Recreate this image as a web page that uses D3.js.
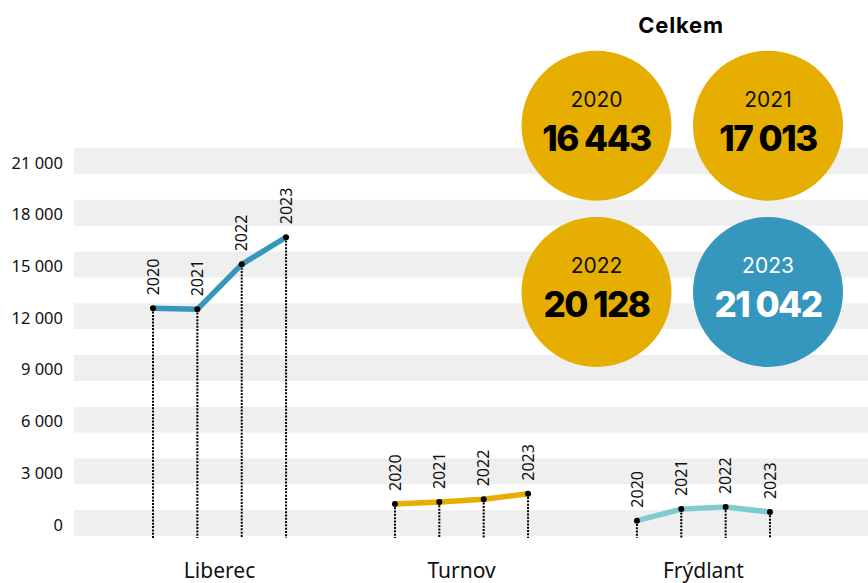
<!DOCTYPE html>
<html>
<head>
<meta charset="utf-8">
<script src="https://cdn.jsdelivr.net/npm/d3@7"></script>
<style>
  body { margin: 0; background: #fff; }
  svg { display: block; }
</style>
</head>
<body>
<div id="chart"></div>
<script>
// data
var cities = ["Liberec", "Turnov", "Frýdlant"];
var years = ["2020", "2021", "2022", "2023"];
var liberecValues = [13210, 13150, 15760, 17330];
var turnovValues = [1860, 1970, 2130, 2450];
var frydlantValues = [890, 1560, 1680, 1390];
var totals = [16443, 17013, 20128, 21042];
var yTicks = [0, 3000, 6000, 9000, 12000, 15000, 18000, 21000];

var cityColors = ["#3597bd", "#e5ae00", "#7ecbd0"];
var seriesValues = [liberecValues, turnovValues, frydlantValues];

var width = 868, height = 583;
var gold = "#e5ae00", blue = "#3597bd";

var locale = d3.formatLocale({decimal: ",", thousands: "\u00a0", grouping: [3], currency: ["", ""]});
var fmt = locale.format(",d");

var svg = d3.select("#chart").append("svg")
    .attr("width", width)
    .attr("height", height);

var y = d3.scaleLinear()
    .domain([0, 21000])
    .range([536, 174]);

var x0 = d3.scaleBand()
    .domain(cities)
    .range([153, 770])
    .paddingInner(0.45)
    .paddingOuter(0);

var x1 = d3.scalePoint()
    .domain(years)
    .range([0, x0.bandwidth()]);

// grey bands
svg.append("g").selectAll("rect")
    .data(yTicks)
    .enter()
    .append("rect")
    .attr("x", 74)
    .attr("width", width - 74)
    .attr("y", function (d) { return y(d + 1500); })
    .attr("height", function (d) { return y(d) - y(d + 1500); })
    .attr("fill", "#efefef");

// y labels
svg.append("g").selectAll("text")
    .data(yTicks)
    .enter()
    .append("text")
    .attr("x", 63)
    .attr("y", function (d) { return y(d + 650); })
    .attr("dy", "0.35em")
    .attr("text-anchor", "end")
    .attr("font-family", "'Noto Sans', sans-serif")
    .attr("font-size", 16.5)
    .attr("fill", "#111")
    .text(function (d) { return fmt(d); });

var line = d3.line()
    .x(function (d, i) { return x1(years[i]); })
    .y(function (d) { return y(d); });

var group = svg.selectAll(".city")
    .data(cities)
    .enter()
    .append("g")
    .attr("class", "city")
    .attr("transform", function (d) { return "translate(" + x0(d) + ",0)"; });

group.each(function (c, ci) {
    var g = d3.select(this);
    var vals = seriesValues[ci];

    // dotted drop lines
    g.selectAll(".drop")
        .data(vals)
        .enter()
        .append("line")
        .attr("class", "drop")
        .attr("x1", function (d, i) { return x1(years[i]); })
        .attr("x2", function (d, i) { return x1(years[i]); })
        .attr("y1", function (d) { return y(d); })
        .attr("y2", y(0) + 2)
        .attr("stroke", "#000")
        .attr("stroke-width", 2)
        .attr("stroke-dasharray", "2,1.3");

    g.append("path")
        .datum(vals)
        .attr("d", line)
        .attr("fill", "none")
        .attr("stroke", cityColors[ci])
        .attr("stroke-width", 5.5);

    g.selectAll(".dot")
        .data(vals)
        .enter()
        .append("circle")
        .attr("class", "dot")
        .attr("cx", function (d, i) { return x1(years[i]); })
        .attr("cy", function (d) { return y(d); })
        .attr("r", 3)
        .attr("fill", "#000");

    g.selectAll(".yr")
        .data(vals)
        .enter()
        .append("text")
        .attr("class", "yr")
        .attr("transform", function (d, i) {
            return "translate(" + x1(years[i]) + "," + (y(d) - 13) + ") rotate(-90)";
        })
        .attr("dy", "0.35em")
        .attr("font-family", "'Noto Sans', sans-serif")
        .attr("font-size", 16)
        .attr("fill", "#111")
        .text(function (d, i) { return years[i]; });

    g.append("text")
        .attr("x", x0.bandwidth() / 2)
        .attr("y", 578)
        .attr("text-anchor", "middle")
        .attr("font-family", "'Noto Sans', sans-serif")
        .attr("font-size", 21)
        .attr("fill", "#111")
        .text(c);
});

// totals
var cx = d3.scalePoint().domain([0, 1]).range([596.5, 768]);
var cy = d3.scalePoint().domain([0, 1]).range([125.7, 292]);

svg.append("text")
    .attr("x", 681)
    .attr("y", 33)
    .attr("text-anchor", "middle")
    .attr("font-family", "Inter, sans-serif")
    .attr("font-weight", 700)
    .attr("font-size", 22)
    .attr("letter-spacing", 0.8)
    .text("Celkem");

var bubble = svg.selectAll(".total")
    .data(totals)
    .enter()
    .append("g")
    .attr("class", "total")
    .attr("transform", function (d, i) {
        return "translate(" + cx(i % 2) + "," + cy(Math.floor(i / 2)) + ")";
    });

bubble.append("circle")
    .attr("r", 75)
    .attr("fill", function (d, i) { return i === totals.length - 1 ? blue : gold; });

bubble.append("text")
    .attr("y", -19)
    .attr("text-anchor", "middle")
    .attr("font-family", "Inter, sans-serif")
    .attr("font-size", 21)
    .attr("fill", function (d, i) { return i === totals.length - 1 ? "#fff" : "#111"; })
    .text(function (d, i) { return years[i]; });

bubble.append("text")
    .attr("y", 25)
    .attr("text-anchor", "middle")
    .attr("font-family", "Inter, sans-serif")
    .attr("font-weight", 800)
    .attr("font-size", 35)
    .attr("letter-spacing", -1.5)
    .attr("fill", function (d, i) { return i === totals.length - 1 ? "#fff" : "#000"; })
    .text(function (d) { return fmt(d); });
</script>
</body>
</html>
